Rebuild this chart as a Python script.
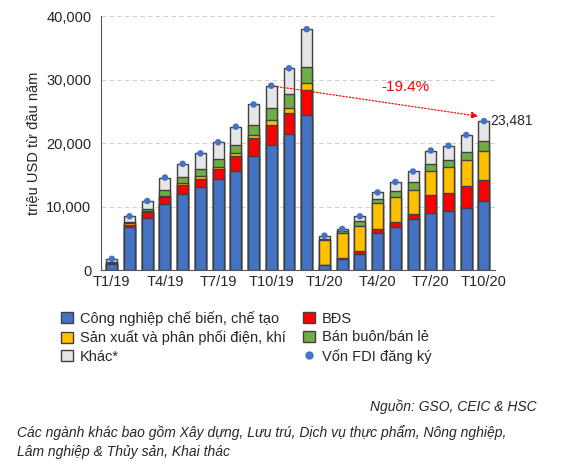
import numpy as np, pandas as pd, seaborn as sns
import matplotlib
matplotlib.use("Agg")
import matplotlib.pyplot as plt
from matplotlib.patches import Patch
from matplotlib.lines import Line2D

months = [f"T{m}/19" for m in range(1,13)] + [f"T{m}/20" for m in range(1,11)]
cn = [1000,6800,8300,10500,12000,13100,14350,15650,18050,19750,21500,24450,
      800,1750,2600,5850,6750,8050,8950,9300,9850,10900]
bds = [100,400,850,1000,1400,1250,1550,2350,2700,3050,3250,3950,
       100,200,500,700,850,850,2900,2900,3350,3300]
dien = [100,200,200,250,300,500,400,500,550,800,800,1050,
        3900,3900,3800,4050,3900,3800,3850,4000,4200,4650]
banbuon = [100,200,250,950,950,1150,1150,1250,1500,1950,2200,2500,
           200,300,900,650,1000,1150,1100,1200,1250,1450]
total = [1800,8500,10900,14600,16750,18400,20150,22600,26100,29050,31800,37950,
         5450,6500,8500,12250,13900,15550,18850,19600,21300,23481]
khac = [t-a-b-c-d for t,a,b,c,d in zip(total,cn,bds,dien,banbuon)]

names = ["Công nghiệp chế biến, chế tạo","BĐS","Sản xuất và phân phối điện, khí","Bán buôn/bán lẻ","Khác*"]
colors = ["#4472C4","#FF0000","#FFC000","#70AD47","#E7E6E6"]
series = [cn,bds,dien,banbuon,khac]

sns.set_style("white")
plt.rcParams['font.family'] = ['Liberation Sans','DejaVu Sans']
fig = plt.figure(figsize=(5.62,4.62), dpi=100)
ax = fig.add_axes([0.18,0.415,0.70,0.55])
cum = np.cumsum(np.array(series), axis=0)
df = pd.DataFrame({"m": months})
for i in range(4,-1,-1):
    df["v"] = cum[i]
    sns.barplot(data=df, x="m", y="v", color=colors[i], saturation=1, width=0.62,
                edgecolor="#404040", linewidth=1.0, ax=ax)
df["t"] = total
sns.scatterplot(data=df, x="m", y="t", color="#4472C4", s=22, zorder=5, ax=ax, edgecolor="none")
ax.set_ylim(0,40000)
ax.set_xlim(-0.6,21.6)
ax.set_yticks(range(0,40001,10000))
ax.set_yticklabels([f"{v:,}" for v in range(0,40001,10000)], fontsize=10.5)
ax.yaxis.grid(True, linestyle=(0,(4,3)), color="#d0d0d0")
ax.set_axisbelow(True)
ax.set_xticks(range(0,22,3))
ax.set_xticklabels([months[i] for i in range(0,22,3)], fontsize=10.5)
ax.set_xticks(np.arange(-0.5,22,1), minor=True)
ax.tick_params(axis='x', which='minor', length=4, color="#555")
ax.tick_params(axis='x', which='major', length=0)
ax.set_xlabel(""); ax.set_ylabel("triệu USD từ đầu năm", fontsize=10.5)
for s in ["top","right"]: ax.spines[s].set_visible(False)
ax.spines["left"].set_color("#555"); ax.spines["bottom"].set_color("#555")
ax.annotate("", xy=(20.85,total[21]+700), xytext=(9,total[9]),
            arrowprops=dict(arrowstyle="-|>", color="red", linestyle=":", lw=0.9))
ax.text(15.2,28200,"-19.4%", color="red", fontsize=11)
ax.text(21.35,total[21],"23,481", fontsize=10, va="center")

handles = [Patch(facecolor=c, edgecolor="#404040", label=n) for c,n in zip(colors,names)]
handles.insert(5, Line2D([],[],marker='o',color="#4472C4",linestyle='none',markersize=5,label="Vốn FDI đăng ký"))
order = [0,2,4,1,3,5]
fig.legend([handles[i] for i in order],[handles[i].get_label() for i in order], ncol=2,
           loc="upper left", bbox_to_anchor=(0.085,0.355), frameon=False, fontsize=10.5,
           handlelength=0.8, handleheight=0.8, columnspacing=1.2, labelspacing=0.3, handletextpad=0.5)
fig.text(0.955,0.11,"Nguồn: GSO, CEIC & HSC", ha="right", style="italic", fontsize=10)
fig.text(0.03,0.055,"Các ngành khác bao gồm Xây dựng, Lưu trú, Dịch vụ thực phẩm, Nông nghiệp,", style="italic", fontsize=10)
fig.text(0.03,0.012,"Lâm nghiệp & Thủy sản, Khai thác", style="italic", fontsize=10)
fig.savefig("out.png", dpi=100)
